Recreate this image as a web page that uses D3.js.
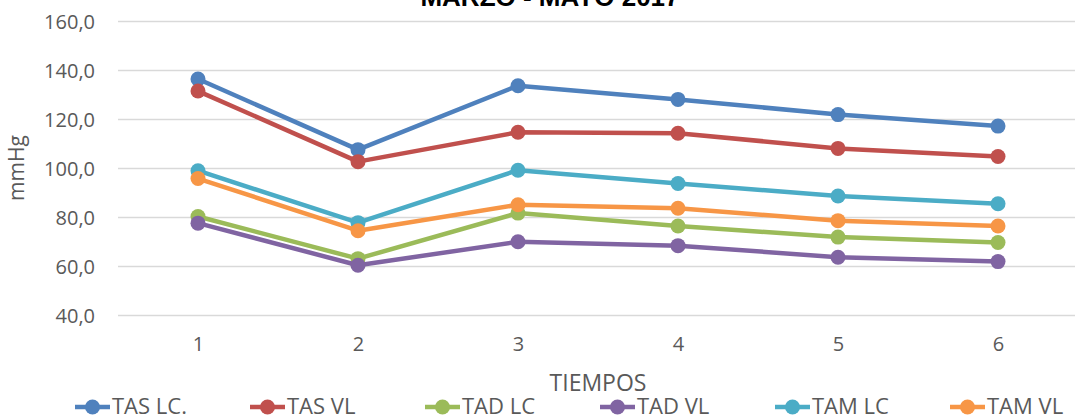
<!DOCTYPE html>
<html lang="es">
    <head>
        <meta charset="utf-8">
        <title>MARZO - MAYO 2017</title>
        <script type="text/javascript" src="https://cdn.jsdelivr.net/npm/d3@7/dist/d3.min.js"></script>
        <style type="text/css">
          body { margin: 0; background: white; }
          .grid line {
            stroke: #d9d9d9;
            stroke-width: 1.5;
          }
          .grid path { display: none; }
          .axis path,
          .axis line { display: none; }
          .axis text {
            font-family: "Open Sans", sans-serif;
            font-size: 20px;
            fill: #595959;
          }
          .label {
            font-family: "Open Sans", sans-serif;
            font-size: 21px;
            fill: #595959;
          }
          .xlabel {
            font-family: "Liberation Sans Narrow", "Open Sans", sans-serif;
            font-size: 23px;
            fill: #595959;
          }
          .title {
            font-family: "Liberation Sans", Arial, sans-serif;
            font-weight: bold;
            font-size: 26px;
            text-anchor: middle;
            fill: #000;
          }
          .legend text {
            font-family: "Liberation Sans Narrow", "Open Sans", sans-serif;
            font-size: 22px;
            fill: #595959;
          }
        </style>
    </head>
    <body>
        <script type="text/javascript">
            // Data
            var tiempos = ["1", "2", "3", "4", "5", "6"];
            var seriesNames = ["TAS LC.", "TAS VL", "TAD LC", "TAD VL", "TAM LC", "TAM VL"];
            var colors = ["#4f81bd", "#c0504d", "#9bbb59", "#8064a2", "#4bacc6", "#f79646"];
            var tasLC = [136.3, 107.5, 133.6, 128.0, 121.8, 117.1];
            var tasVL = [131.4, 102.6, 114.6, 114.2, 108.0, 104.7];
            var tadLC = [80.2, 63.0, 81.6, 76.3, 71.8, 69.6];
            var tadVL = [77.5, 60.3, 69.9, 68.3, 63.6, 61.8];
            var tamLC = [98.9, 77.7, 99.1, 93.7, 88.6, 85.4];
            var tamVL = [95.7, 74.4, 85.0, 83.6, 78.5, 76.3];
            var yTicks = [40, 60, 80, 100, 120, 140, 160];

            var allSeries = [tasLC, tasVL, tadLC, tadVL, tamLC, tamVL];

            var w = 1075;
            var h = 416;

            var margin = {top: 21, right: -3, bottom: 101, left: 118},
            width = w - margin.left - margin.right,
            height = h - margin.top - margin.bottom;

            var root = d3.select("body").append("svg")
            .attr("width", w)
            .attr("height", h);

            var svg = root.append("g")
            .attr("transform", "translate(" + margin.left + "," + margin.top + ")");

            // Scales
            var x = d3.scalePoint()
            .domain(tiempos)
            .range([0, width])
            .padding(0.5);

            var y = d3.scaleLinear()
            .domain([40, 160])
            .range([height, 0]);

            // Gridlines
            svg.append("g")
            .attr("class", "grid")
            .call(d3.axisLeft(y).tickValues(yTicks).tickSize(-width).tickFormat(""));

            // Axes
            svg.append("g")
            .attr("class", "axis")
            .attr("transform", "translate(-20,0)")
            .call(d3.axisLeft(y).tickValues(yTicks).tickSize(0)
              .tickFormat(function(d) { return d3.format(".1f")(d).replace(".", ","); }))
            .selectAll("text")
            .attr("dy", "0.35em");

            svg.append("g")
            .attr("class", "axis")
            .attr("transform", "translate(0," + height + ")")
            .call(d3.axisBottom(x).tickSize(0).tickPadding(22));

            // Lines
            var line = d3.line()
            .x(function(d, i) { return x(tiempos[i]); })
            .y(function(d) { return y(d); });

            allSeries.forEach(function(s, k) {
              svg.append("path")
              .datum(s)
              .attr("d", line)
              .style("fill", "none")
              .style("stroke", colors[k])
              .style("stroke-width", 4.5)
              .style("stroke-linejoin", "round");

              svg.append("g")
              .selectAll("circle")
              .data(s)
              .enter()
              .append("circle")
              .attr("cx", function(d, i) { return x(tiempos[i]); })
              .attr("cy", function(d) { return y(d); })
              .attr("r", 7.5)
              .style("fill", colors[k]);
            });

            // Axis names
            root.append("text")
            .attr("class", "label")
            .attr("transform", "translate(24,168) rotate(-90)")
            .attr("text-anchor", "middle")
            .text("mmHg");

            root.append("text")
            .attr("class", "xlabel")
            .attr("text-anchor", "middle")
            .attr("x", margin.left + width / 2)
            .attr("y", 391)
            .text("TIEMPOS");

            // Title (cut off at the top)
            root.append("text")
            .attr("class", "title")
            .attr("x", 550)
            .attr("y", 6)
            .text("MARZO - MAYO 2017");

            // Legend
            var legend = root.append("g")
            .attr("class", "legend");

            seriesNames.forEach(function(name, k) {
              var lx = 75 + k * 175;
              legend.append("line")
              .attr("x1", lx).attr("x2", lx + 35)
              .attr("y1", 407).attr("y2", 407)
              .style("stroke", colors[k])
              .style("stroke-width", 4.5);
              legend.append("circle")
              .attr("cx", lx + 17.5)
              .attr("cy", 407)
              .attr("r", 7.5)
              .style("fill", colors[k]);
              legend.append("text")
              .attr("x", lx + 37)
              .attr("y", 414)
              .text(name);
            });
        </script>
    </body>
</html>
